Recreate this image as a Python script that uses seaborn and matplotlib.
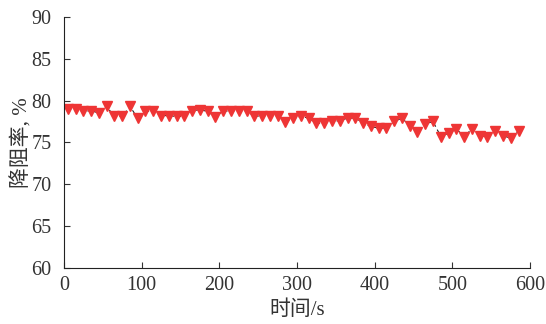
import numpy as np
import pandas as pd
import matplotlib
matplotlib.use("Agg")
import matplotlib.pyplot as plt
import seaborn as sns

# dane
czas = list(range(5, 590, 10))
spadek = [
    79.0, 79.0, 78.7, 78.8, 78.5, 79.3, 78.1, 78.1, 79.3, 77.9,
    78.7, 78.8, 78.2, 78.2, 78.1, 78.1, 78.8, 78.9, 78.7, 78.0,
    78.8, 78.7, 78.8, 78.8, 78.1, 78.2, 78.2, 78.2, 77.4, 77.9,
    78.1, 77.9, 77.3, 77.3, 77.5, 77.6, 77.9, 77.9, 77.3, 76.9,
    76.7, 76.7, 77.5, 77.9, 77.0, 76.3, 77.2, 77.5, 75.7, 76.1,
    76.6, 75.7, 76.6, 75.8, 75.7, 76.4, 75.8, 75.5, 76.4,
]
assert len(czas) == len(spadek)

xticks = [0, 100, 200, 300, 400, 500, 600]
yticks = [60, 65, 70, 75, 80, 85, 90]

sns.set_style("ticks")
plt.rcParams["font.family"] = ["Liberation Serif", "Noto Sans CJK SC"]
plt.rcParams["xtick.direction"] = "in"
plt.rcParams["ytick.direction"] = "in"

df = pd.DataFrame({"t": czas, "dr": spadek})

fig = plt.figure(figsize=(5.46, 3.24), dpi=100)
ax = fig.add_axes([0.117, 0.173, 0.854, 0.775])

sns.lineplot(data=df, x="t", y="dr", ax=ax, color="#222222", linewidth=0.8,
             linestyle=(0, (3, 3)), zorder=1)
ax.plot(df["t"], df["dr"], linestyle="none", marker="v", markersize=7,
        markerfacecolor="#ee3535", markeredgecolor="#ee3535", zorder=2)

ax.set_xlim(0, 600)
ax.set_ylim(60, 90)
ax.set_xticks(xticks)
ax.set_yticks(yticks)
ax.tick_params(labelsize=14.5, colors="#333333", length=4, width=0.8)
ax.tick_params(axis="x", pad=6)
ax.tick_params(axis="y", pad=9)
ax.set_xlabel("时间/s", fontsize=15, color="#333333", labelpad=4)
ax.set_ylabel("降阻率, %", fontsize=15, color="#333333", labelpad=-1)
for s in ["top", "right"]:
    ax.spines[s].set_visible(False)
for s in ["left", "bottom"]:
    ax.spines[s].set_color("#222222")
    ax.spines[s].set_linewidth(0.8)

fig.savefig("out.png", dpi=100)
